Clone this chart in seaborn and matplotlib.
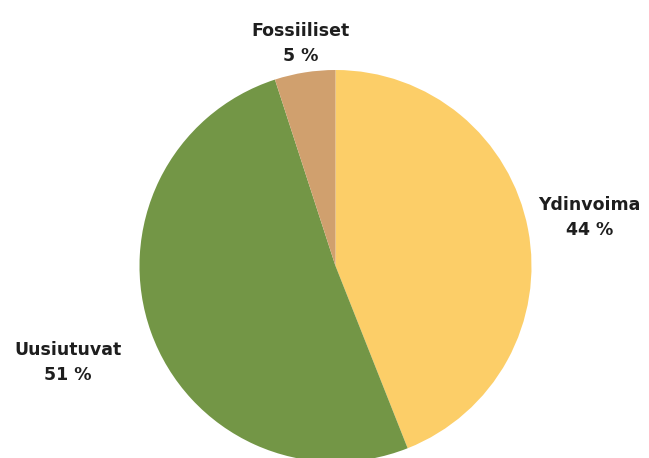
import matplotlib
matplotlib.use("Agg")
import matplotlib.pyplot as plt
import seaborn as sns
import numpy as np

categories = ["Ydinvoima", "Uusiutuvat", "Fossiiliset"]
values = [44, 51, 5]
pct_labels = ["44 %", "51 %", "5 %"]
colors = ["#FCCE68", "#739646", "#D0A06E"]
label_dist = [1.32, 1.45, 1.15]

sns.set_theme(style="white")
plt.rcParams["font.family"] = ["DejaVu Sans"]

fig = plt.figure(figsize=(6.49, 4.58), dpi=100)
ax = fig.add_axes([0, 0, 1, 1])

cx, cy, r = 335.5, 458 - 266, 196
wedges, _ = ax.pie(values, colors=colors, startangle=90, counterclock=False,
                   center=(cx, cy), radius=r, frame=True,
                   wedgeprops=dict(linewidth=0))
ax.set_xlim(0, 649)
ax.set_ylim(0, 458)
ax.set_aspect("equal")
ax.axis("off")

for w, cat, pl, d in zip(wedges, categories, pct_labels, label_dist):
    ang = np.deg2rad((w.theta1 + w.theta2) / 2)
    x = cx + d * r * np.cos(ang)
    y = cy + d * r * np.sin(ang)
    ax.text(x, y, f"{cat}\n{pl}", ha="center", va="center", fontsize=12.5,
            fontweight="bold", color="#1e1e1e", linespacing=1.5)

fig.savefig("out.png", dpi=100, facecolor="white")
